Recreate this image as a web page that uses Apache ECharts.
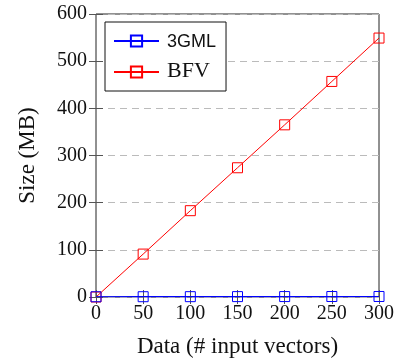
<!DOCTYPE html>
<html>
<head>
<meta charset="utf-8">
<script src="https://cdn.jsdelivr.net/npm/echarts@6/dist/echarts.min.js"></script>
<style>
  html, body { margin: 0; padding: 0; background: #fff; }
  #chart { width: 397px; height: 363px; }
</style>
</head>
<body>
<div id="chart"></div>
<script>
// data
const inputVectors = [0, 50, 100, 150, 200, 250, 300];
const gmlSize = [0.5, 0.6, 0.7, 0.8, 0.9, 1.0, 1.1];
const bfvSize = [0, 91, 183, 274, 365, 457, 549];
const seriesNames = ['3GML', 'BFV'];

const serif = '"Liberation Serif", "DejaVu Serif", serif';
const chart = echarts.init(document.getElementById('chart'));

const pairs = (ys) => inputVectors.map((x, i) => [x, ys[i]]);

const tickInside = { show: true, inside: true, length: 7, lineStyle: { color: '#555', width: 1 } };

const option = {
  animation: false,
  backgroundColor: '#fff',
  textStyle: { fontFamily: serif },
  grid: {
    left: 96, right: 18, top: 14, bottom: 66,
    show: true, borderColor: '#222', borderWidth: 1, backgroundColor: 'transparent'
  },
  legend: {
    left: 105, top: 22,
    orient: 'vertical',
    padding: [10, 9, 10, 8],
    itemGap: 13,
    itemWidth: 45,
    itemHeight: 14,
    backgroundColor: '#fff',
    borderColor: '#111',
    borderWidth: 1,
    borderRadius: 0,
    data: seriesNames,
    // label text is drawn by the graphic texts below (legend ignores fontFamily here)
    textStyle: { color: 'rgba(0,0,0,0)', fontSize: 18, fontFamily: '"Liberation Sans", sans-serif', padding: [0, 0, 0, 4] }
  },
  graphic: [
    { type: 'text', left: 167, top: 33, z: 100,
      style: { text: seriesNames[0], fill: '#111', font: '18px "Liberation Sans", sans-serif' } },
    { type: 'text', left: 167, top: 60, z: 100,
      style: { text: seriesNames[1], fill: '#111', font: '22px "Liberation Serif", serif' } }
  ],
  xAxis: [{
    type: 'value', min: 0, max: 300, interval: 50,
    name: 'Data (# input vectors)', nameLocation: 'middle', nameGap: 38,
    nameTextStyle: { fontFamily: serif, fontSize: 23, color: '#111', verticalAlign: 'top' },
    axisLine: { show: false },
    axisTick: tickInside,
    axisLabel: { fontFamily: serif, fontSize: 20, color: '#111', margin: 7 },
    splitLine: { show: false }
  }, {
    type: 'value', min: 0, max: 300, interval: 50, position: 'top',
    axisLine: { show: false }, axisTick: tickInside, axisLabel: { show: false }, splitLine: { show: false }
  }],
  yAxis: [{
    type: 'value', min: 0, max: 600, interval: 100,
    name: 'Size (MB)', nameLocation: 'middle', nameGap: 57,
    nameTextStyle: { fontFamily: serif, fontSize: 23, color: '#111' },
    axisLine: { show: false },
    axisTick: tickInside,
    axisLabel: { fontFamily: serif, fontSize: 20, color: '#111', margin: 9 },
    splitLine: { show: true, lineStyle: { color: '#bbb', type: [7, 5], width: 1 } }
  }, {
    type: 'value', min: 0, max: 600, interval: 100, position: 'right',
    axisLine: { show: false }, axisTick: tickInside, axisLabel: { show: false }, splitLine: { show: false }
  }],
  series: [{
    name: seriesNames[0], type: 'line', data: pairs(gmlSize),
    symbol: 'rect', symbolSize: 10,
    lineStyle: { color: '#0000ff', width: 1.2 },
    itemStyle: { color: 'rgba(255,255,255,0)', borderColor: '#0000ff', borderWidth: 1 },
    z: 3
  }, {
    name: seriesNames[1], type: 'line', data: pairs(bfvSize),
    symbol: 'rect', symbolSize: 10,
    lineStyle: { color: '#ff0000', width: 1 },
    itemStyle: { color: 'rgba(255,255,255,0)', borderColor: '#ff0000', borderWidth: 1 },
    z: 2
  }]
};

chart.setOption(option);
</script>
</body>
</html>
